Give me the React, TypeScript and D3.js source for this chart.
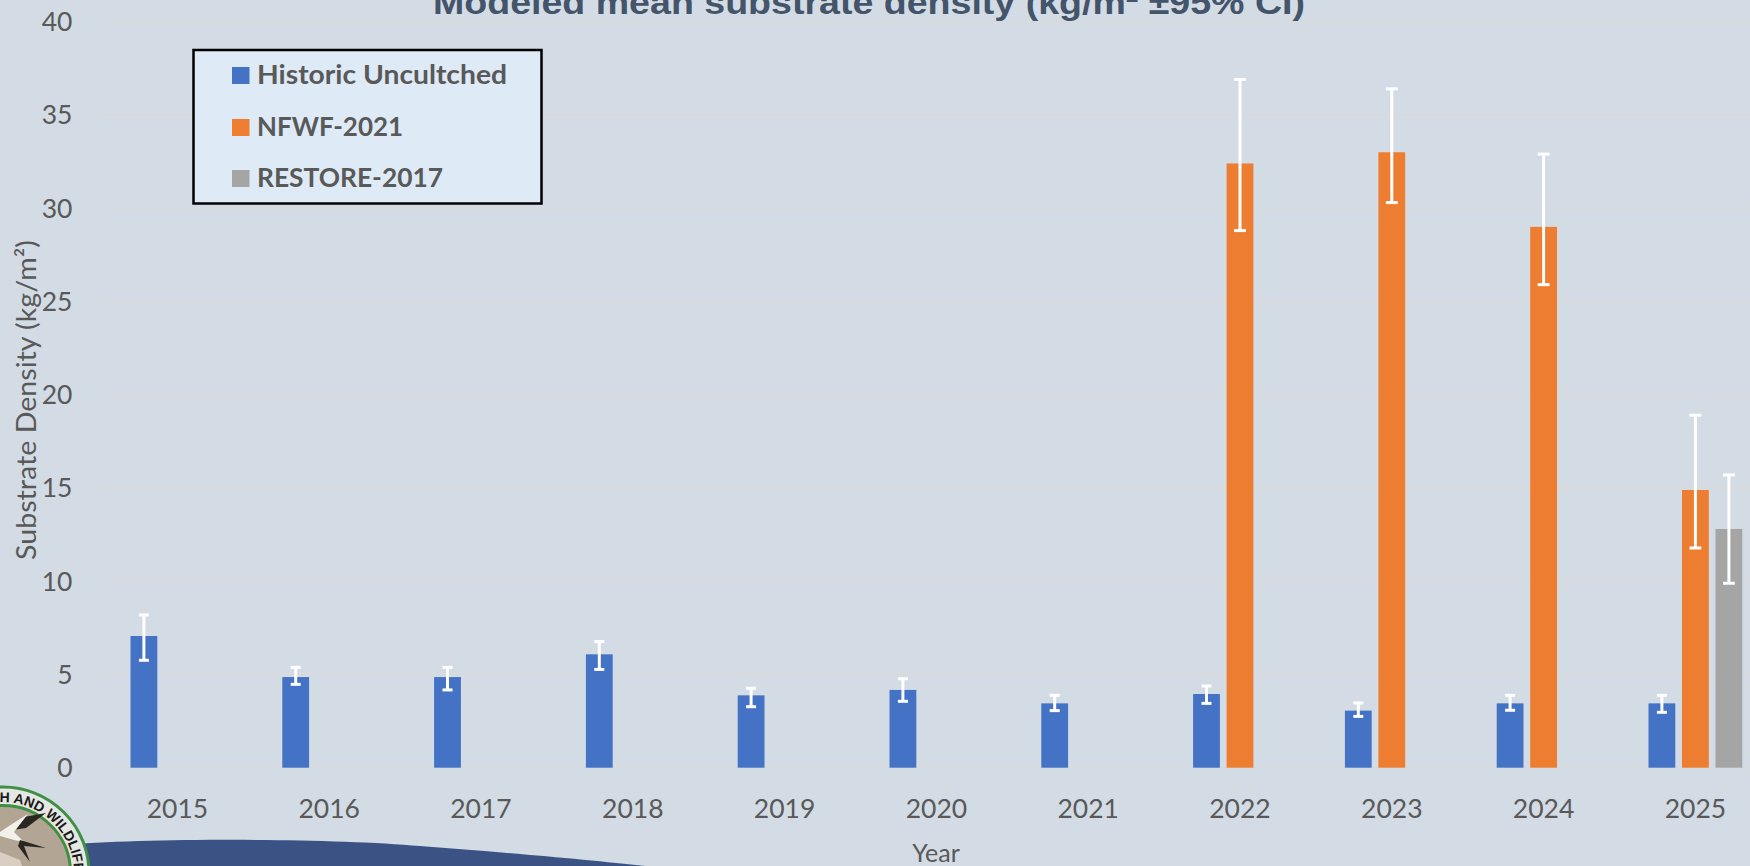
import React from "react";
import * as d3 from "d3";

const years = ["2015","2016","2017","2018","2019","2020","2021","2022","2023","2024","2025"];
const seriesNames = ["Historic Uncultched","NFWF-2021","RESTORE-2017"];
const seriesColors = ["#4472c4","#ed7d31","#a5a5a5"];

const historicMean = [7.06,4.86,4.86,6.08,3.88,4.17,3.45,3.95,3.06,3.45,3.45];
const historicLow  = [5.76,4.47,4.17,5.27,3.27,3.56,3.06,3.45,2.75,3.08,2.97];
const historicHigh = [8.19,5.38,5.38,6.77,4.26,4.77,3.88,4.38,3.47,3.88,3.88];

const nfwfYears = ["2022","2023","2024","2025"];
const nfwfMean = [32.4,33.0,29.0,14.89];
const nfwfLow  = [28.8,30.3,25.9,11.78];
const nfwfHigh = [36.9,36.4,32.9,18.9];

const restoreYears = ["2025"];
const restoreMean = [12.8];
const restoreLow  = [9.89];
const restoreHigh = [15.7];

const W = 1750, H = 866;
const BG = "#d3dce4", TXT = "#595959";
const FONT = "Lato, 'Open Sans', sans-serif";

const y = d3.scaleLinear().domain([0,40]).range([767.7,21.7]);
const x0 = d3.scaleBand<string>().domain(years).range([101.5,1771.3]);
const inner = x0.bandwidth();
const x1 = d3.scaleBand<string>().domain(seriesNames).range([29, inner-29]).paddingInner(0.2);

type Row = {year:string; mean:number; low:number; high:number; s:number};
const rows: Row[] = [
  ...years.map((yr,i)=>({year:yr,mean:historicMean[i],low:historicLow[i],high:historicHigh[i],s:0})),
  ...nfwfYears.map((yr,i)=>({year:yr,mean:nfwfMean[i],low:nfwfLow[i],high:nfwfHigh[i],s:1})),
  ...restoreYears.map((yr,i)=>({year:yr,mean:restoreMean[i],low:restoreLow[i],high:restoreHigh[i],s:2})),
];

const cx = 3, cy = 873;
const legendTextWidths = [250,146,186];

export default function App(){
  return (
    <svg width={W} height={H} viewBox={`0 0 ${W} ${H}`} style={{position:"fixed",left:0,top:0,display:"block",background:BG}}>
      <rect width={W} height={H} fill={BG}/>
      {/* title */}
      <text x={869} y={14} textAnchor="middle" fontFamily="'Liberation Sans', Arial, sans-serif" fontWeight={700} fontSize={33} fill="#44546a" textLength={872} lengthAdjust="spacingAndGlyphs">Modeled mean substrate density (kg/m² ±95% CI)</text>

      {/* grid and y ticks */}
      {y.ticks(8).map(t=>(
        <g key={t}>
          <line x1={103} x2={W} y1={y(t)} y2={y(t)} stroke="#d9d9d9" strokeWidth={1.5}/>
          <text x={72.5} y={y(t)+9.5} textAnchor="end" fontFamily={FONT} fontSize={26.5} fill={TXT}>{t}</text>
        </g>
      ))}

      {/* bars */}
      {rows.map(r=>{
        const bx = x0(r.year)! + x1(seriesNames[r.s])!;
        return <rect key={r.year+r.s} x={bx} y={y(r.mean)} width={x1.bandwidth()} height={y(0)-y(r.mean)} fill={seriesColors[r.s]}/>;
      })}
      {/* error bars */}
      {rows.map(r=>{
        const c = x0(r.year)! + x1(seriesNames[r.s])! + x1.bandwidth()/2;
        const cap = r.s===0 ? 5 : 5.9;
        return (
          <g key={"e"+r.year+r.s} stroke="#fff" strokeWidth={3}>
            <line x1={c} x2={c} y1={y(r.low)} y2={y(r.high)}/>
            <line x1={c-cap} x2={c+cap} y1={y(r.low)} y2={y(r.low)}/>
            <line x1={c-cap} x2={c+cap} y1={y(r.high)} y2={y(r.high)}/>
          </g>
        );
      })}

      {/* wave + logo */}
      <path d="M 60 845 C 150 838, 330 838, 420 846 C 500 852, 590 860, 645 866 L 60 866 Z" fill="#3b5285"/>
      <g>
        <circle cx={cx} cy={cy} r={86} fill="#e6e6e2" stroke="#3f8f47" strokeWidth={3}/>
        <circle cx={cx} cy={cy} r={67.5} fill="#b2a594" stroke="#3f8f47" strokeWidth={3}/>
        <defs><path id="ringPath" d={`M ${cx-71} ${cy} A 71 71 0 1 1 ${cx} ${cy+71}`}/></defs>
        <text fontFamily="'Liberation Sans', Arial, sans-serif" fontWeight={700} fontSize={14} fill="#1a1a1a">
          <textPath href="#ringPath" startOffset={108}>H AND WILDLIFE</textPath>
        </text>
        <path d="M 46 813 L 24 817 L 12 830 L 26 828 Z" fill="#2a2622"/>
        <path d="M 0 832 L 12 824 L 28 814 L 14 832 L 24 842 L 14 840 L 0 836 Z" fill="#f2f0ea"/>
        <path d="M 20 840 L 46 848 L 24 846 L 30 862 L 18 846 Z" fill="#2a2622"/>
        <path d="M 0 852 L 20 860 L 22 866 L 0 866 Z" fill="#d8cfc2"/>
      </g>

      {/* x labels */}
      {years.map(yr=>(
        <text key={yr} x={x0(yr)!+inner/2} y={818} textAnchor="middle" fontFamily={FONT} fontSize={26.5} fill={TXT}>{yr}</text>
      ))}
      <text x={936} y={862} textAnchor="middle" fontFamily={FONT} fontSize={25} fill={TXT}>Year</text>
      <text transform="translate(36,400) rotate(-90)" textAnchor="middle" fontFamily={FONT} fontSize={26} fill={TXT} textLength={320} lengthAdjust="spacingAndGlyphs">Substrate Density (kg/m²)</text>

      {/* legend */}
      <rect x={193.5} y={50} width={348} height={153.5} fill="#deeaf6" stroke="#000" strokeWidth={2.5}/>
      {seriesNames.map((n,i)=>{
        const top = [67,119,170][i];
        return (
          <g key={n}>
            <rect x={232} y={top} width={17.5} height={17} fill={seriesColors[i]}/>
            <text x={257} y={top+17} fontFamily={FONT} fontWeight={700} fontSize={27} fill={TXT} textLength={legendTextWidths[i]} lengthAdjust="spacingAndGlyphs">{n}</text>
          </g>
        );
      })}
    </svg>
  );
}
